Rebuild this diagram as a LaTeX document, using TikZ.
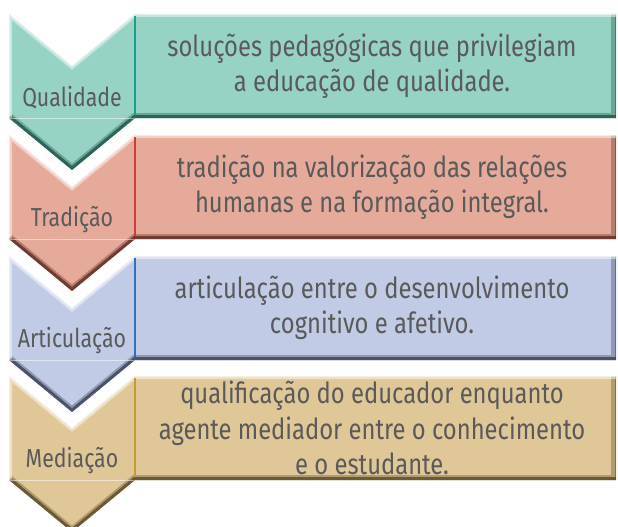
\documentclass[tikz,border=0pt]{standalone}
\usepackage{fontspec}
\setmainfont[FakeStretch=0.82]{Fira Sans}
\definecolor{txt}{HTML}{5A5A5A}
\definecolor{fA}{HTML}{96D3C5}\definecolor{dA}{HTML}{1F5446}\definecolor{lA}{HTML}{16A386}
\definecolor{fB}{HTML}{E6AA9B}\definecolor{dB}{HTML}{5E2C24}\definecolor{lB}{HTML}{D33B3B}
\definecolor{fC}{HTML}{C1CBE5}\definecolor{dC}{HTML}{3A4158}\definecolor{lC}{HTML}{2F6FC2}
\definecolor{fD}{HTML}{E0C797}\definecolor{dD}{HTML}{5A4A2A}\definecolor{lD}{HTML}{C99A30}
\tikzset{
  lbl/.style={font=\fontsize{26}{32}\selectfont, text=txt, inner sep=0pt},
  desc/.style={font=\fontsize{29}{35.5}\selectfont, text=txt, align=center, inner sep=0pt},
}
\newcommand\stepshape{(9,0) -- (72,52) -- (135,0) -- (616,0) -- (616,104) -- (135,104) -- (72,156) -- (9,104) -- cycle}
% #1 top, #2 fill, #3 dark, #4 divider, #5 name, #6 label, #7 text
\newcommand\rowitem[7]{%
  \begin{scope}[yshift=-#1pt]
    \fill[#2] \stepshape;
    \begin{scope}
      \clip \stepshape;
      \draw[#3, line width=10pt, opacity=0.35] (616,0) -- (616,104) -- (135,104) -- (72,156) -- (9,104);
      \draw[#3, line width=6pt, opacity=0.8] (616,104) -- (135,104) -- (72,156) -- (9,104);
      \draw[#3, line width=2pt, opacity=0.5] (616,0) -- (616,104);
      \draw[white, line width=6pt, opacity=0.45] (9,104) -- (9,0) -- (72,52) -- (135,0) -- (616,0);
      \draw[white, line width=2pt, opacity=0.5] (9,104) -- (9,0) -- (72,52) -- (135,0) -- (616,0);
      \draw[white, line width=0.6pt, opacity=0.5] (9,104) -- (135,104);
    \end{scope}
    \draw[#4, line width=1.2pt] (135,2) -- (135,101);
    \node[lbl] (#5l) at (72,84) {#6};
    \node[desc] (#5t) at (372,52) {#7};
  \end{scope}}
\begin{document}
\begin{tikzpicture}[x=1pt,y=-1pt]
\useasboundingbox (0,0) rectangle (618,527);
\rowitem{14}{fA}{dA}{lA}{qa}{Qualidade}{soluções pedagógicas que privilegiam\\a educação de qualidade.}
\rowitem{135}{fB}{dB}{lB}{tr}{Tradição}{tradição na valorização das relações\\humanas e na formação integral.}
\rowitem{256}{fC}{dC}{lC}{ar}{Articulação}{articulação entre o desenvolvimento\\cognitivo e afetivo.}
\rowitem{376}{fD}{dD}{lD}{me}{Mediação}{qualificação do educador enquanto\\agente mediador entre o conhecimento\\e o estudante.}
\end{tikzpicture}
\end{document}
